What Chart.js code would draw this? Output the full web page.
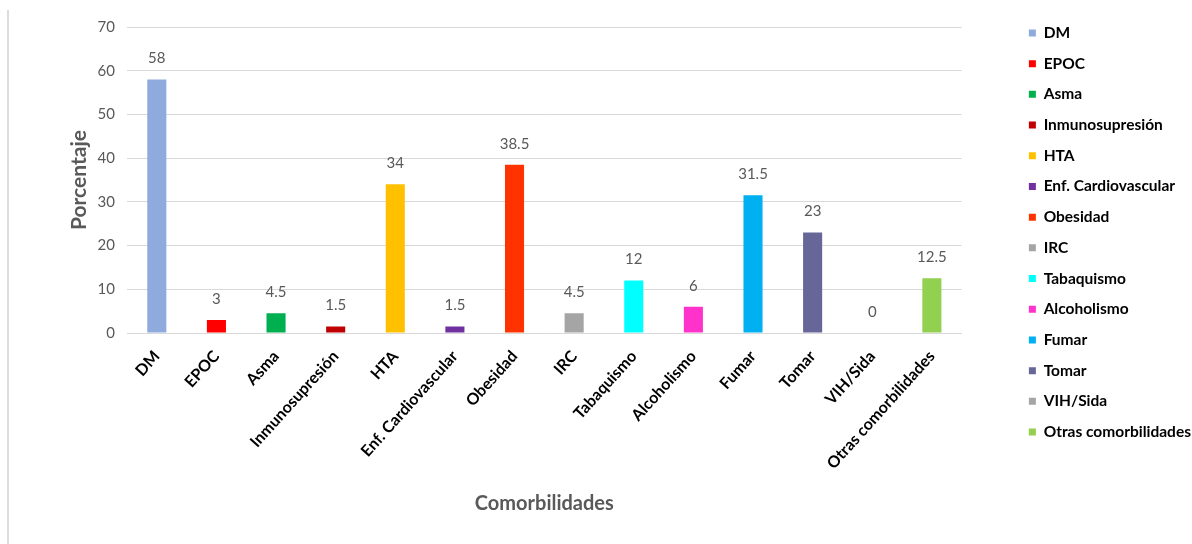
<!DOCTYPE html>
<html>
<head>
<meta charset="utf-8">
<script src="https://cdn.jsdelivr.net/npm/chart.js@4/dist/chart.umd.min.js"></script>
<style>
  html, body { margin: 0; padding: 0; background: #ffffff; }
  #wrap { position: relative; width: 1192px; height: 544px; overflow: hidden; }
  #edge { position: absolute; left: 7px; top: 10px; width: 2px; height: 534px; background: #dcdcdc; }
  canvas { position: absolute; left: 0; top: 0; }
</style>
</head>
<body>
<div id="wrap">
  <div id="edge"></div>
  <canvas id="c" width="1192" height="544"></canvas>
</div>
<script>
const categories = ["DM", "EPOC", "Asma", "Inmunosupresión", "HTA", "Enf. Cardiovascular", "Obesidad", "IRC", "Tabaquismo", "Alcoholismo", "Fumar", "Tomar", "VIH/Sida", "Otras comorbilidades"];
const values = [58, 3, 4.5, 1.5, 34, 1.5, 38.5, 4.5, 12, 6, 31.5, 23, 0, 12.5];
const colors = ["#8FAADC", "#FF0000", "#00B050", "#C00000", "#FFC000", "#7030A0", "#FF3300", "#A5A5A5", "#00FFFF", "#FF33CC", "#00B0F0", "#666699", "#A5A5A5", "#92D050"];
const yTicks = [0, 10, 20, 30, 40, 50, 60, 70];
const yTitle = "Porcentaje";
const xTitle = "Comorbilidades";

const FONT = "Lato, 'Open Sans', sans-serif";
const GRAY = "#595959";

const valueLabels = {
  id: "valueLabels",
  afterDatasetsDraw(chart) {
    const ctx = chart.ctx;
    const meta = chart.getDatasetMeta(0);
    ctx.save();
    ctx.font = "15px " + FONT;
    ctx.fillStyle = GRAY;
    ctx.textAlign = "center";
    ctx.textBaseline = "middle";
    meta.data.forEach((bar, i) => {
      ctx.fillText(String(values[i]), bar.x, bar.y - 21);
    });
    ctx.restore();
  }
};

new Chart(document.getElementById("c"), {
  type: "bar",
  data: {
    labels: categories,
    datasets: [{
      label: yTitle,
      data: values,
      backgroundColor: colors,
      borderWidth: 0,
      categoryPercentage: 1,
      barPercentage: 0.32
    }]
  },
  options: {
    responsive: false,
    devicePixelRatio: 1,
    animation: false,
    layout: { padding: { top: 10, left: 63, right: -9, bottom: 24 } },
    plugins: {
      tooltip: { enabled: false },
      title: {
        display: true,
        text: " ",
        fullSize: false,
        font: { size: 10, lineHeight: 1 },
        padding: { top: 0, bottom: 7 }
      },
      legend: {
        position: "right",
        align: "start",
        labels: {
          boxWidth: 7,
          boxHeight: 7,
          padding: 15.2,
          color: GRAY,
          font: { family: FONT, size: 15.5, weight: "bold" },
          generateLabels() {
            return categories.map((c, i) => ({
              text: c,
              fillStyle: colors[i],
              strokeStyle: colors[i],
              lineWidth: 0,
              hidden: false,
              index: i,
              datasetIndex: 0
            }));
          }
        }
      }
    },
    scales: {
      x: {
        grid: { display: false },
        border: { display: true, color: "#D9D9D9", width: 1 },
        ticks: {
          color: "#000000",
          font: { family: FONT, size: 16, weight: "bold" },
          minRotation: 48,
          maxRotation: 48,
          autoSkip: false,
          padding: 6
        },
        title: {
          display: true,
          text: xTitle,
          color: GRAY,
          font: { family: FONT, size: 20, weight: "bold" },
          padding: { top: 4, bottom: 4 }
        },
        afterFit(s) { s.height = 187; }
      },
      y: {
        min: 0,
        max: 70,
        afterBuildTicks(s) { s.ticks = yTicks.map(v => ({ value: v })); },
        grid: { color: "#D9D9D9", drawTicks: false },
        border: { display: false },
        ticks: {
          color: GRAY,
          font: { family: FONT, size: 15 },
          padding: 12
        },
        title: {
          display: true,
          text: yTitle,
          color: GRAY,
          font: { family: FONT, size: 21, weight: "bold" },
          padding: { top: 4, bottom: 4 }
        },
        afterFit(s) { s.width = 64; }
      },
      y2: {
        position: "right",
        display: true,
        grid: { display: false },
        border: { display: false },
        ticks: { display: false },
        afterFit(s) { s.width = 52; }
      }
    }
  },
  plugins: [valueLabels]
});
</script>
</body>
</html>
